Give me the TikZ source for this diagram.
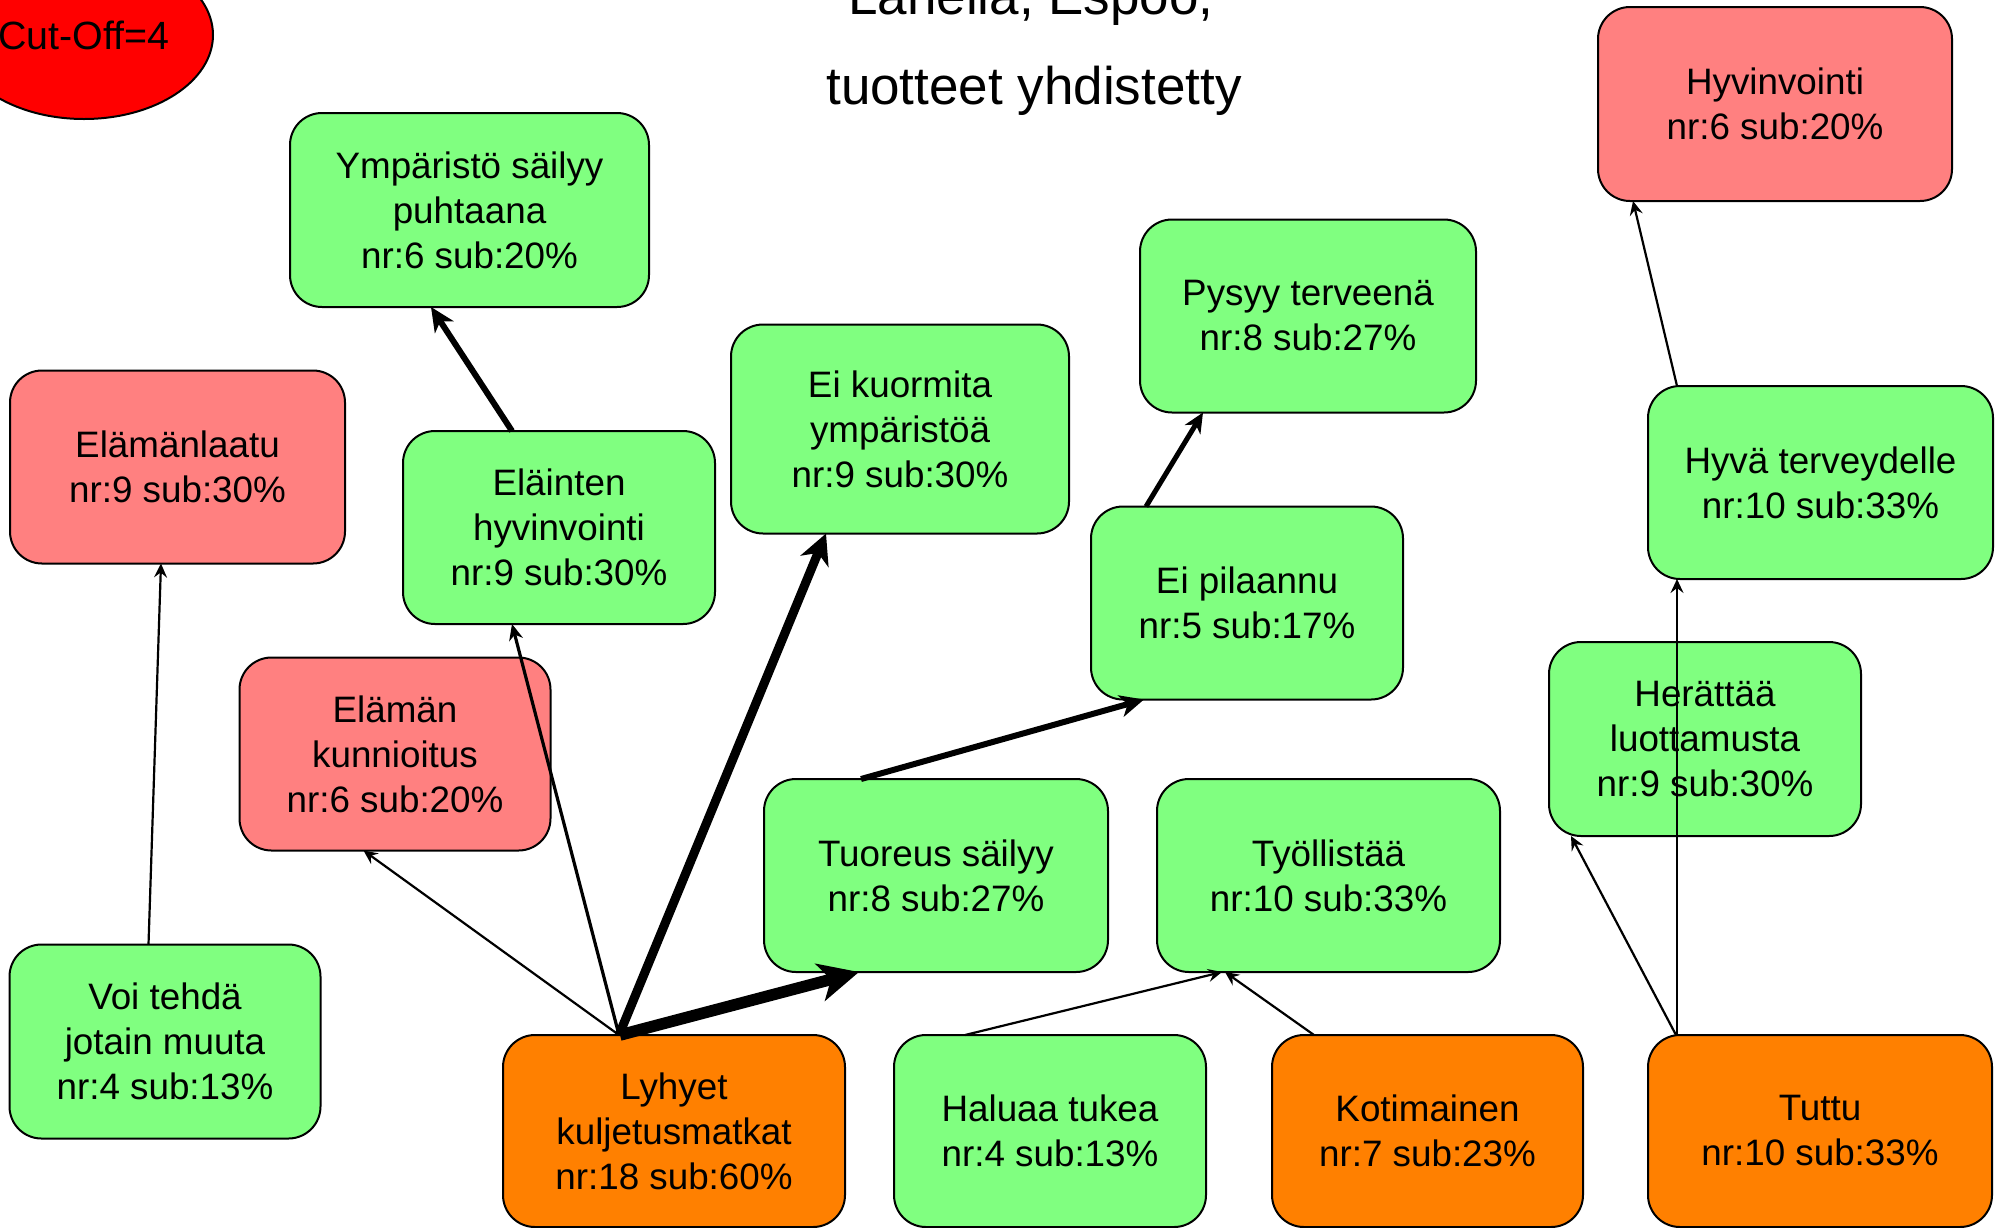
\documentclass[tikz,border=0pt]{standalone}
\usepackage{fontspec}
\setmainfont{Liberation Sans}
\usetikzlibrary{arrows.meta,calc,shapes.geometric}
\definecolor{gfill}{HTML}{80FF80}
\definecolor{rfill}{HTML}{FF8080}
\definecolor{ofill}{HTML}{FF8000}
\definecolor{cutred}{HTML}{FF0000}
\tikzset{
  box/.style={draw, line width=1pt, rounded corners=16pt, align=center, inner sep=0pt, outer sep=0pt, font=\fontsize{18.4}{22.5}\selectfont},
  gbox/.style={box, fill=gfill},
  rbox/.style={box, fill=rfill},
  obox/.style={box, fill=ofill},
  titletext/.style={font=\fontsize{26.5}{30}\selectfont, anchor=base, inner sep=0pt},
  arrthin/.style={line width=1.1pt, -{Stealth[length=7pt,width=6.5pt,inset=2.5pt]}},
  arrmid/.style={line width=1.6pt, -{Stealth[length=8pt,width=7pt,inset=2.5pt]}},
  arrtwo/.style={line width=2.5pt, -{Stealth[length=10pt,width=9pt,inset=3pt]}},
  arrthick/.style={line width=3pt, -{Stealth[length=12pt,width=11pt,inset=3.5pt]}},
  arrheavy/.style={line width=4.5pt, -{Stealth[length=15pt,width=15pt,inset=4.5pt]}},
  arrhuge/.style={line width=5.8pt, -{Stealth[length=20pt,width=19pt,inset=5.5pt]}},
}
\begin{document}
\begin{tikzpicture}[x=0.5pt,y=-0.5pt]
\useasboundingbox (0,0) rectangle (2002,1227);
\fill[white] (0,0) rectangle (2002,1227);

% legend ellipse
\node[ellipse, draw, line width=1pt, fill=cutred, inner sep=0pt, minimum width=129pt, minimum height=84pt] (cut) at (84,35) {};
\node[font=\fontsize{19.7}{23}\selectfont, inner sep=0pt] (cuttext) at (cut.center) {Cut-Off=4};

% title
\node[titletext] (t1) at (1031,14) {Lähellä, Espoo,};
\node[titletext] (t2) at (1034,104) {tuotteet yhdistetty};

% boxes
\node[gbox, minimum width=179.5pt, minimum height=97pt] (ymp) at (469.5,210) {Ympäristö säilyy\\puhtaana\\nr:6 sub:20\%};
\node[rbox, minimum width=177pt, minimum height=97pt] (hyvi) at (1775,104) {Hyvinvointi\\nr:6 sub:20\%};
\node[gbox, minimum width=168pt, minimum height=96.5pt] (pys) at (1308,316) {Pysyy terveenä\\nr:8 sub:27\%};
\node[gbox, minimum width=169pt, minimum height=104.5pt] (eik) at (900,429) {Ei kuormita\\ympäristöä\\nr:9 sub:30\%};
\node[rbox, minimum width=167.5pt, minimum height=96.5pt] (ela) at (177.5,467) {Elämänlaatu\\nr:9 sub:30\%};
\node[gbox, minimum width=156pt, minimum height=96.5pt] (elh) at (559,527.5) {Eläinten\\hyvinvointi\\nr:9 sub:30\%};
\node[gbox, minimum width=172.5pt, minimum height=96.5pt] (hyvt) at (1820.5,482.5) {Hyvä terveydelle\\nr:10 sub:33\%};
\node[gbox, minimum width=156pt, minimum height=96.5pt] (eip) at (1247,603) {Ei pilaannu\\nr:5 sub:17\%};
\node[rbox, minimum width=155.5pt, minimum height=96.5pt] (elk) at (395,754) {Elämän\\kunnioitus\\nr:6 sub:20\%};
\node[gbox, minimum width=156pt, minimum height=97pt] (her) at (1705,739) {Herättää\\luottamusta\\nr:9 sub:30\%};
\node[gbox, minimum width=172pt, minimum height=96.5pt] (tuo) at (936,875.5) {Tuoreus säilyy\\nr:8 sub:27\%};
\node[gbox, minimum width=171.5pt, minimum height=96.5pt] (tyo) at (1328.5,875.5) {Työllistää\\nr:10 sub:33\%};
\node[gbox, minimum width=155.5pt, minimum height=97pt] (voi) at (165,1041.5) {Voi tehdä\\jotain muuta\\nr:4 sub:13\%};
\node[obox, minimum width=171pt, minimum height=96pt] (lyh) at (674,1131) {Lyhyet\\kuljetusmatkat\\nr:18 sub:60\%};
\node[gbox, minimum width=156pt, minimum height=96pt] (hal) at (1050,1131) {Haluaa tukea\\nr:4 sub:13\%};
\node[obox, minimum width=155.5pt, minimum height=96pt] (kot) at (1427.5,1131) {Kotimainen\\nr:7 sub:23\%};
\node[obox, minimum width=172pt, minimum height=96pt] (tut) at (1820,1131) {Tuttu\\nr:10 sub:33\%};

% connectors
\draw[arrthin] ($(lyh.north west)+(116,0)$) -- ($(elk.south west)+(124,0)$);
\draw[arrmid] ($(lyh.north west)+(116,0)$) -- ($(elh.south west)+(109,0)$);
\draw[arrheavy] ($(lyh.north west)+(116,0)$) -- ($(eik.south west)+(95,0)$);
\draw[arrhuge] ($(lyh.north west)+(117,0)$) -- ($(tuo.south west)+(95,0)$);
\draw[arrthick] ($(elh.north west)+(109,0)$) -- ($(ymp.south west)+(141,0)$);
\draw[arrthick] ($(tuo.north west)+(97,0)$) -- ($(eip.south west)+(53,0)$);
\draw[arrtwo] ($(eip.north west)+(55,0)$) -- ($(pys.south west)+(63,0)$);
\draw[arrthin] ($(voi.north west)+(139,0)$) -- ($(ela.south west)+(151,0)$);
\draw[arrthin] ($(hal.north west)+(71,0)$) -- ($(tyo.south west)+(65,0)$);
\draw[arrthin] ($(kot.north west)+(42,0)$) -- ($(tyo.south west)+(68,0)$);
\draw[arrthin] ($(tut.north west)+(28,0)$) -- ($(her.south west)+(22,0)$);
\draw[arrthin] ($(tut.north west)+(29,0)$) -- ($(hyvt.south west)+(29,0)$);
\draw[arrthin] ($(hyvt.north west)+(29,0)$) -- ($(hyvi.south west)+(35,0)$);
\end{tikzpicture}
\end{document}
